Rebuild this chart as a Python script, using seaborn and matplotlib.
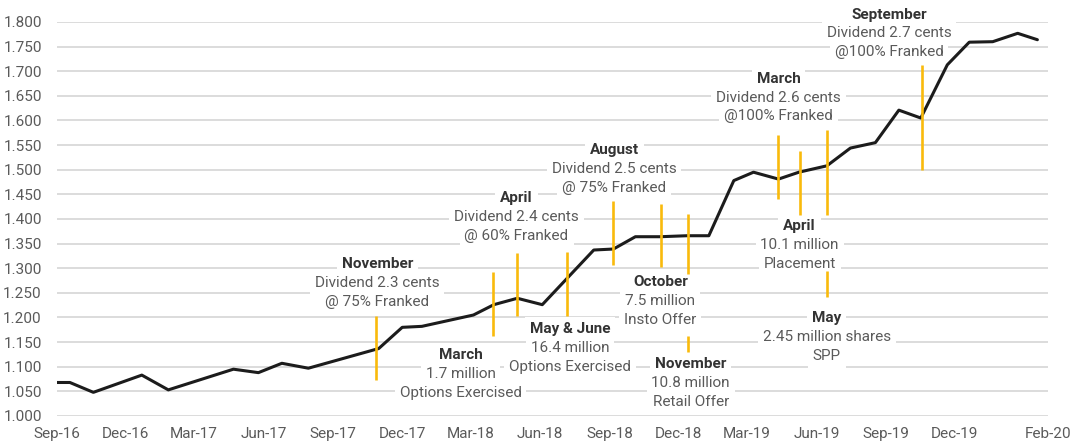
import matplotlib
matplotlib.use("Agg")
import matplotlib.pyplot as plt
import numpy as np
import pandas as pd
import seaborn as sns

# NAV series
nav_dates = ["2016-09-01", "2016-09-18", "2016-10-19", "2016-12-22", "2017-01-26",
             "2017-04-22", "2017-05-25", "2017-06-25", "2017-07-30", "2017-10-31",
             "2017-12-01", "2017-12-27", "2018-03-05", "2018-04-01", "2018-05-02",
             "2018-06-04", "2018-08-11", "2018-09-06", "2018-10-05", "2018-11-07",
             "2018-12-12", "2019-01-10", "2019-02-12", "2019-03-10", "2019-04-12",
             "2019-05-09", "2019-06-15", "2019-07-16", "2019-08-18", "2019-09-18",
             "2019-10-17", "2019-11-21", "2019-12-20", "2020-01-20", "2020-02-22",
             "2020-03-19"]
nav_values = [1.068, 1.068, 1.048, 1.083, 1.053,
              1.095, 1.088, 1.107, 1.097, 1.137,
              1.180, 1.182, 1.205, 1.226, 1.239,
              1.226, 1.337, 1.339, 1.364, 1.364,
              1.366, 1.366, 1.478, 1.495, 1.481,
              1.495, 1.508, 1.544, 1.555, 1.621,
              1.605, 1.713, 1.759, 1.760, 1.777,
              1.764]

# event markers (yellow bars)
mark_dates = ["2017-10-28", "2018-03-31", "2018-05-01", "2018-07-07", "2018-09-06",
              "2018-11-08", "2018-12-13", "2018-12-13", "2019-04-12", "2019-05-10",
              "2019-06-15", "2019-06-15", "2019-10-18"]
mark_low = [1.073, 1.163, 1.202, 1.203, 1.307, 1.302, 1.289, 1.129, 1.441, 1.409,
            1.409, 1.242, 1.500]
mark_high = [1.202, 1.292, 1.331, 1.333, 1.437, 1.431, 1.410, 1.163, 1.571, 1.539,
             1.581, 1.295, 1.712]

# event labels
label_dates = ["2017-10-29", "2018-02-16", "2018-05-01", "2018-07-11", "2018-09-07",
               "2018-11-07", "2018-12-17", "2019-04-12", "2019-05-10", "2019-06-15",
               "2019-09-05"]
label_y = [1.308, 1.124, 1.443, 1.177, 1.540, 1.272, 1.106, 1.685, 1.386, 1.198, 1.815]
label_titles = ["November", "March", "April", "May & June", "August", "October",
                "November", "March", "April", "May", "September"]
label_lines = [["Dividend 2.3 cents", "@ 75% Franked"],
               ["1.7 million", "Options Exercised"],
               ["Dividend 2.4 cents", "@ 60% Franked"],
               ["16.4 million", "Options Exercised"],
               ["Dividend 2.5 cents", "@ 75% Franked"],
               ["7.5 million", "Insto Offer"],
               ["10.8 million", "Retail Offer"],
               ["Dividend 2.6 cents", "@100% Franked"],
               ["10.1 million", "Placement"],
               ["2.45 million shares", "SPP"],
               ["Dividend 2.7 cents", "@100% Franked"]]

tick_dates = ["2016-09-01", "2016-12-01", "2017-03-01", "2017-06-01", "2017-09-01",
              "2017-12-01", "2018-03-01", "2018-06-01", "2018-09-01", "2018-12-01",
              "2019-03-01", "2019-06-01", "2019-09-01", "2019-12-01", "2020-04-02"]
tick_labels = ["Sep-16", "Dec-16", "Mar-17", "Jun-17", "Sep-17", "Dec-17", "Mar-18",
               "Jun-18", "Sep-18", "Dec-18", "Mar-19", "Jun-19", "Sep-19", "Dec-19",
               "Feb-20"]
y_ticks = [1.000, 1.050, 1.100, 1.150, 1.200, 1.250, 1.300, 1.350, 1.400,
           1.450, 1.500, 1.550, 1.600, 1.650, 1.700, 1.750, 1.800]

sns.set_theme(style="white")
plt.rcParams['font.family'] = ['Roboto', 'DejaVu Sans']

df = pd.DataFrame({"date": pd.to_datetime(nav_dates), "nav": nav_values})

fig = plt.figure(figsize=(10.72, 4.47), dpi=100)
ax = fig.add_axes([0.0532, 0.0694, 0.9244, 0.8814])

grey_txt = "#5a5a5a"
yellow = "#F9BA0C"

for v in y_ticks:
    ax.axhline(v, color="#d2d2d2", lw=1.1, zorder=1)

sns.lineplot(data=df, x="date", y="nav", color="#1c1c1c", lw=2.2, ax=ax, zorder=4)

ax.vlines(pd.to_datetime(mark_dates), mark_low, mark_high, color=yellow, lw=1.9, zorder=5)

box = dict(fc="white", ec="none", pad=3.5)
for d, y, title, lines in zip(pd.to_datetime(label_dates), label_y, label_titles, label_lines):
    ax.annotate(title, (d, y), ha="center", va="center", fontsize=11, fontweight="bold",
                color="#333333", bbox=box, zorder=3, annotation_clip=False)
    for i, line in enumerate(lines, start=1):
        ax.annotate(line, (d, y), xytext=(0, -13.6 * i), textcoords="offset points",
                    ha="center", va="center", fontsize=11, color=grey_txt,
                    bbox=box, zorder=3, annotation_clip=False)

ax.set_xlim(pd.Timestamp("2016-09-01"), pd.Timestamp("2020-04-02"))
ax.set_ylim(1.0, 1.8)
ax.set_xticks(pd.to_datetime(tick_dates))
ax.set_xticklabels(tick_labels)
ax.set_yticks(y_ticks)
ax.set_yticklabels([f"{v:.3f}" for v in y_ticks])
ax.tick_params(axis="both", length=0, labelsize=11, colors=grey_txt)
ax.tick_params(axis="y", pad=11)
ax.tick_params(axis="x", pad=8)
ax.set_xlabel("")
ax.set_ylabel("")
for s in ax.spines.values():
    s.set_visible(False)

fig.savefig("out.png", dpi=100)
